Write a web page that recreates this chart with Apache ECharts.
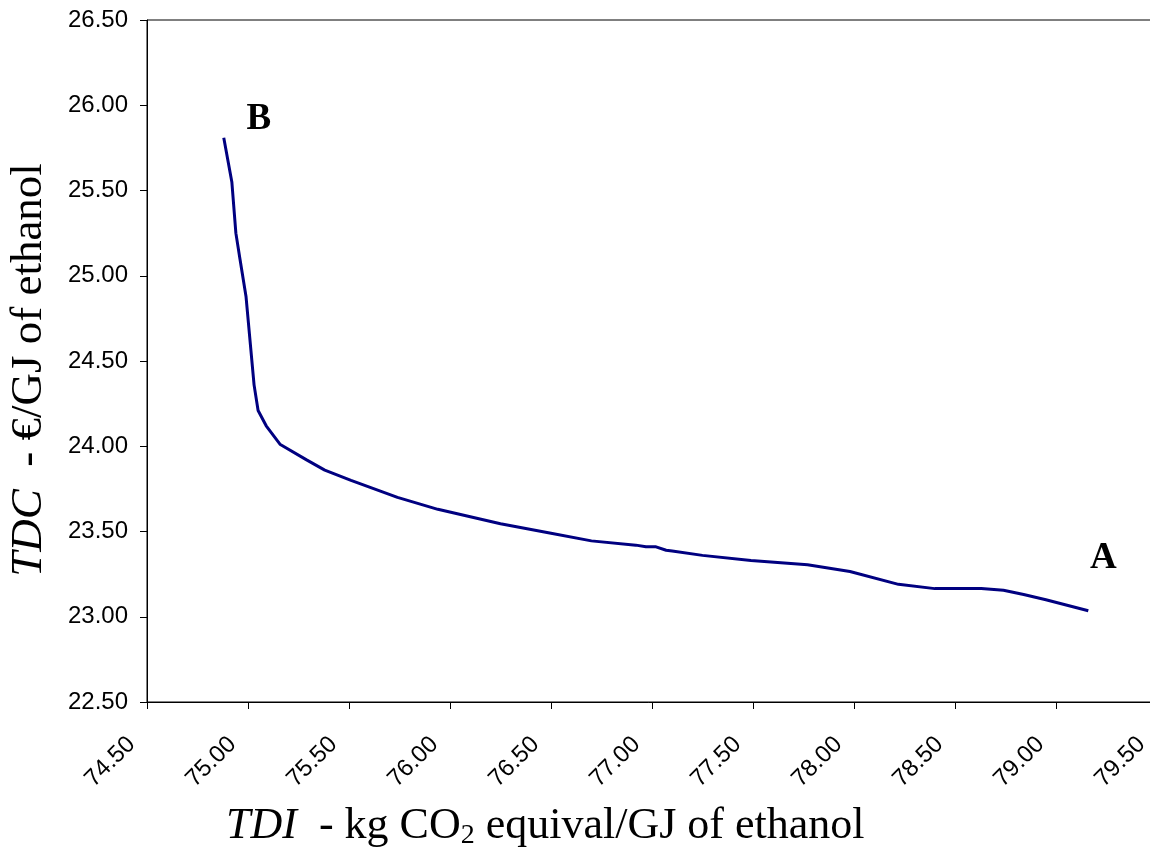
<!DOCTYPE html>
<html>
<head>
<meta charset="utf-8">
<script src="https://cdn.jsdelivr.net/npm/echarts@6/dist/echarts.min.js"></script>
<style>
    html, body { margin: 0; padding: 0; background: #fff; }
    #main { width: 1150px; height: 857px; }
</style>
</head>
<body>
<div id="main"></div>
<script>
    const tdi = [74.88, 74.92, 74.94, 74.96, 74.99, 75.03, 75.05, 75.09, 75.16, 75.29,
        75.38, 75.51, 75.74, 75.94, 76.25, 76.50, 76.70, 76.92, 76.97, 77.02,
        77.07, 77.10, 77.25, 77.49, 77.77, 77.98, 78.22, 78.40, 78.63, 78.74,
        78.84, 78.95, 79.16];
    const tdc = [25.81, 25.55, 25.25, 25.10, 24.88, 24.36, 24.21, 24.12, 24.01, 23.92,
        23.86, 23.80, 23.70, 23.63, 23.545, 23.49, 23.445, 23.42, 23.41, 23.41,
        23.39, 23.385, 23.36, 23.33, 23.305, 23.265, 23.19, 23.165, 23.165, 23.155,
        23.13, 23.10, 23.035];
    const xRange = [74.5, 79.5];
    const yRange = [22.5, 26.5];
    const tickStep = 0.5;
    const endLabels = ['B', 'A'];

    var chart = echarts.init(document.getElementById('main'), null, { renderer: 'canvas' });

    var points = tdi.map(function (x, i) { return [x, tdc[i]]; });
    var last = points.length - 1;

    var serif = '"Liberation Serif", "Times New Roman", serif';
    var sans = '"Liberation Sans", Arial, sans-serif';

    var option = {
        animation: false,
        backgroundColor: '#fff',
        grid: {
            left: 147,
            top: 20,
            width: 1010,
            height: 682,
            outerBoundsMode: 'none',
            containLabel: false,
            show: true,
            borderColor: '#000',
            borderWidth: 1
        },
        xAxis: {
            type: 'value',
            min: xRange[0],
            max: xRange[1],
            interval: tickStep,
            axisLine: { lineStyle: { color: '#000', width: 1 } },
            axisTick: { show: true, inside: false, length: 7, lineStyle: { color: '#000' } },
            splitLine: { show: false },
            axisLabel: {
                rotate: 45,
                margin: 40,
                align: 'right',
                verticalAlign: 'bottom',
                padding: [0, 10, 0, 0],
                color: '#000',
                fontFamily: sans,
                fontSize: 24,
                showMinLabel: true,
                showMaxLabel: true,
                hideOverlap: false,
                formatter: function (v) { return v.toFixed(2); }
            }
        },
        yAxis: {
            type: 'value',
            min: yRange[0],
            max: yRange[1],
            interval: tickStep,
            axisLine: { show: true, lineStyle: { color: '#000', width: 1 } },
            axisTick: { show: true, inside: false, length: 7, lineStyle: { color: '#000' } },
            splitLine: { show: false },
            axisLabel: {
                margin: 19,
                color: '#000',
                fontFamily: sans,
                fontSize: 24,
                formatter: function (v) { return v.toFixed(2); }
            }
        },
        series: [
            {
                type: 'line',
                data: points,
                showSymbol: false,
                symbol: 'none',
                lineStyle: { color: '#000080', width: 3 },
                markPoint: {
                    symbol: 'circle',
                    symbolSize: 1,
                    itemStyle: { color: 'transparent' },
                    label: {
                        show: true,
                        color: '#000',
                        fontFamily: serif,
                        fontWeight: 'bold',
                        fontSize: 37,
                        formatter: function (p) { return p.name; }
                    },
                    data: [
                        { name: endLabels[0], coord: points[0], label: { offset: [35, -18] } },
                        { name: endLabels[1], coord: points[last], label: { offset: [15, -52] } }
                    ]
                }
            }
        ],
        graphic: [
            {
                type: 'text',
                x: 226,
                y: 826,
                style: {
                    text: '{i|TDI}  - kg CO{sub|2} equival/GJ of ethanol',
                    fill: '#000',
                    font: '44px ' + serif,
                    align: 'left',
                    verticalAlign: 'middle',
                    rich: {
                        i: { fontStyle: 'italic', fontFamily: serif, fontSize: 44 },
                        sub: { fontFamily: serif, fontSize: 28, padding: [19, 0, 0, 0] }
                    }
                }
            },
            {
                type: 'text',
                x: 29,
                y: 370,
                rotation: Math.PI / 2,
                style: {
                    text: '{i|TDC}  - €/GJ of ethanol',
                    fill: '#000',
                    font: '45px ' + serif,
                    align: 'center',
                    verticalAlign: 'middle',
                    rich: {
                        i: { fontStyle: 'italic', fontFamily: serif, fontSize: 45 }
                    }
                }
            }
        ]
    };

    chart.setOption(option);
    window.addEventListener('resize', chart.resize);
</script>
</body>
</html>
